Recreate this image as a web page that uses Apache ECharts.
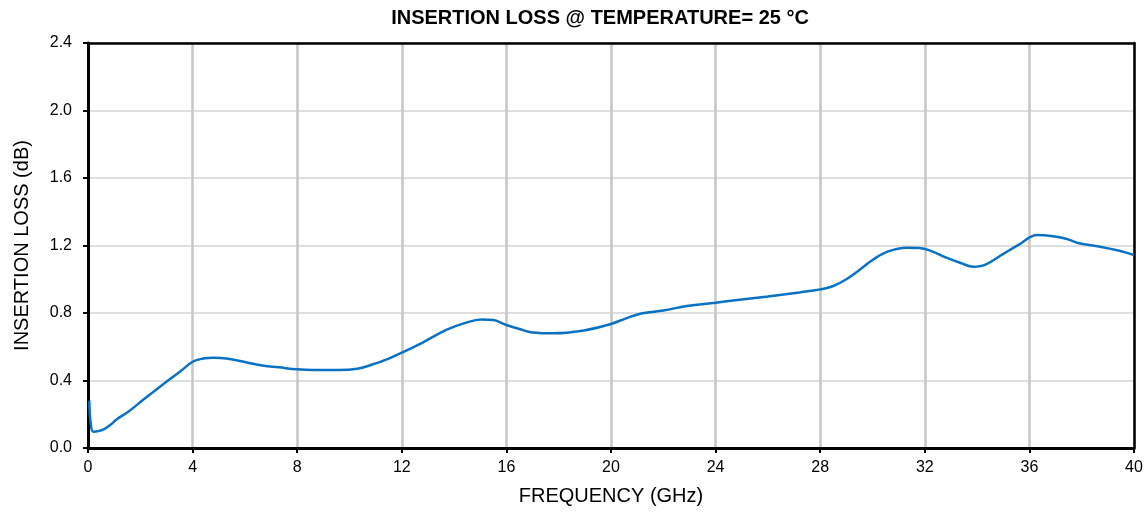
<!DOCTYPE html>
<html><head><meta charset="utf-8">
<script src="https://cdn.jsdelivr.net/npm/echarts@6/dist/echarts.min.js"></script>
<style>html,body{margin:0;padding:0;background:#fff}#c{width:1147px;height:512px}</style>
</head><body><div id="c"></div>
<script>
var titleText = 'INSERTION LOSS @ TEMPERATURE= 25 °C';
var xAxisName = 'FREQUENCY (GHz)';
var yAxisName = 'INSERTION LOSS (dB)';
var freq = [0.05,0.1,0.2,0.4,0.6,0.85,1.1,1.5,2.1,3.0,3.5,4.0,4.4,4.8,5.3,6.0,6.6,7.3,8.0,8.6,9.6,10.3,10.9,11.5,12.0,12.8,13.7,14.4,15.05,15.5,16.0,16.5,17.0,17.8,18.9,20.0,20.6,21.2,22.0,22.9,24.0,25.0,26.0,27.2,28.0,28.5,29.0,29.5,30.0,30.6,31.3,31.8,32.2,32.8,33.4,33.85,34.3,35.0,35.6,36.3,36.9,37.4,37.9,38.7,39.4,40.0];
var loss = [0.28,0.15,0.097,0.10,0.11,0.136,0.17,0.21,0.284,0.393,0.45,0.511,0.530,0.535,0.530,0.510,0.490,0.478,0.466,0.462,0.462,0.470,0.496,0.530,0.565,0.625,0.700,0.740,0.762,0.758,0.729,0.705,0.685,0.680,0.695,0.735,0.770,0.798,0.815,0.841,0.861,0.880,0.898,0.922,0.940,0.960,1.000,1.055,1.114,1.165,1.187,1.185,1.170,1.130,1.095,1.074,1.085,1.150,1.205,1.262,1.255,1.240,1.213,1.193,1.170,1.144];
var data = freq.map(function(f,i){return [f, loss[i]];});
var chart = echarts.init(document.getElementById('c'), null, {renderer:'canvas'});
var font = 'Liberation Sans, Arial, sans-serif';
var frameAxis = {axisLine:{show:true,onZero:false,lineStyle:{color:'#000',width:2.5}},axisTick:{show:false},axisLabel:{show:false},splitLine:{show:false}};
chart.setOption({
  animation:false,
  title:{text:titleText,left:595,top:3,textAlign:'center',textStyle:{fontFamily:font,fontSize:20,fontWeight:'bold',color:'#000'}},
  grid:{left:88,right:13,top:43,bottom:64,show:false,outerBoundsMode:'none',containLabel:false},
  xAxis:[{type:'value',min:0,max:40,interval:4,name:xAxisName,nameLocation:'middle',nameGap:38,
    nameTextStyle:{fontFamily:font,fontSize:20,color:'#000'},
    axisLine:{onZero:false,lineStyle:{color:'#000',width:3}},axisTick:{show:true,length:5,lineStyle:{color:'#000',width:2}},
    axisLabel:{fontFamily:font,fontSize:16,color:'#000',margin:12},
    splitLine:{show:true,lineStyle:{color:'#c6c6c6',width:2.5}}},
    Object.assign({type:'value',min:0,max:40,position:'top'},frameAxis)],
  yAxis:[{type:'value',min:0,max:2.4,interval:0.4,name:yAxisName,nameLocation:'middle',nameGap:56,
    nameTextStyle:{fontFamily:font,fontSize:20,color:'#000'},
    axisLine:{show:true,onZero:false,lineStyle:{color:'#000',width:3}},axisTick:{show:true,length:5,lineStyle:{color:'#000',width:2}},
    axisLabel:{fontFamily:font,fontSize:16,color:'#000',margin:16,formatter:function(v){return v.toFixed(1);}},
    splitLine:{show:true,lineStyle:{color:'#d4d4d4',width:1.5}}},
    Object.assign({type:'value',min:0,max:2.4,position:'right'},frameAxis)],
  series:[{type:'line',data:data,smooth:0.4,showSymbol:false,lineStyle:{color:'#0a72c4',width:2.5}}]
});
</script></body></html>
